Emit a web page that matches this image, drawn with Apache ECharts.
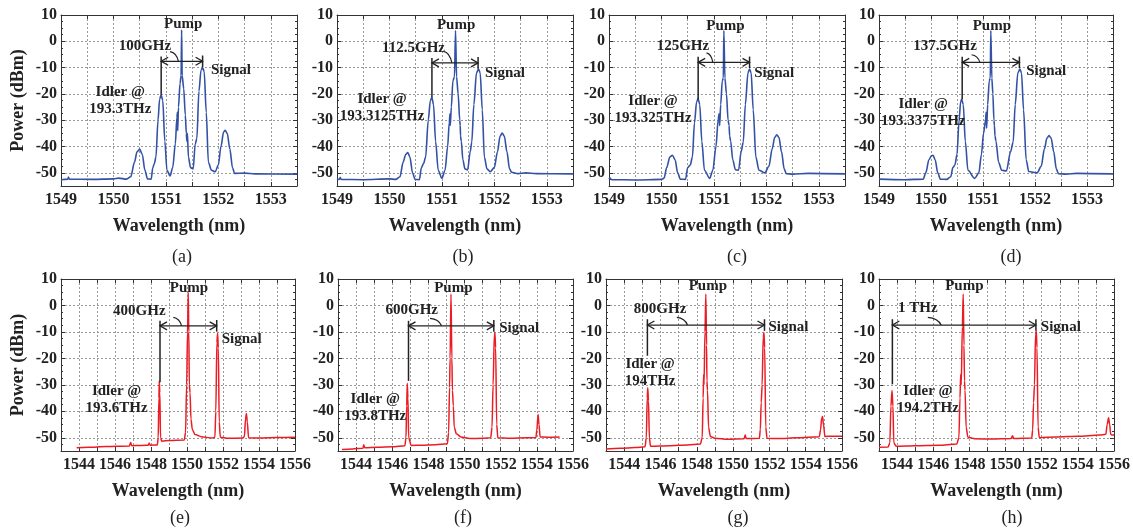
<!DOCTYPE html>
<html>
<head>
<meta charset="utf-8">
<script src="https://cdn.jsdelivr.net/npm/echarts@6/dist/echarts.min.js"></script>
<style>
html, body { margin: 0; padding: 0; background: #fff; }
#chart { width: 1133px; height: 532px; }
</style>
</head>
<body>
<div id="chart"></div>
<script>
// ---- spectra: [wavelength nm, power dBm] ----
var specA = [[1549.00,-52.6],[1549.13,-52.4],[1549.14,-51.6],[1549.16,-52.4],[1549.6,-52.5],[1550.0,-52.3],[1550.1,-52.0],[1550.25,-52.4],[1550.33,-51.5],[1550.40,-46],[1550.45,-42],[1550.50,-41],[1550.55,-43],[1550.60,-49],[1550.65,-52.3],[1550.72,-52.4],[1550.75,-48],[1550.78,-46.5],[1550.81,-44],[1550.85,-30],[1550.88,-22],[1550.91,-20.3],[1550.94,-22.5],[1550.98,-38],[1551.02,-49],[1551.08,-51.2],[1551.13,-48],[1551.18,-39],[1551.21,-29],[1551.22,-27],[1551.225,-34],[1551.24,-25],[1551.27,-16],[1551.29,-13],[1551.30,4.3],[1551.31,-13],[1551.34,-18],[1551.37,-28],[1551.39,-35],[1551.40,-38],[1551.41,-35],[1551.43,-44],[1551.47,-48],[1551.52,-48.5],[1551.56,-39],[1551.59,-37],[1551.63,-19],[1551.67,-11],[1551.70,-10],[1551.73,-11.5],[1551.77,-27],[1551.81,-46],[1551.87,-49],[1551.94,-49.6],[1552.0,-47],[1552.05,-40],[1552.10,-34.5],[1552.13,-33.8],[1552.17,-35],[1552.22,-41],[1552.27,-48],[1552.31,-50.2],[1552.5,-50.1],[1552.7,-50.4],[1553.5,-50.5]];
var specB = [[1549.0,-52.6],[1549.05,-52.4],[1549.06,-51.8],[1549.08,-52.5],[1549.5,-52.6],[1550.0,-52.3],[1550.12,-52.5],[1550.2,-51.5],[1550.26,-46],[1550.31,-43],[1550.35,-42.3],[1550.39,-44],[1550.44,-50],[1550.49,-52.5],[1550.57,-52.6],[1550.61,-48],[1550.65,-46.5],[1550.69,-44],[1550.74,-30],[1550.78,-22.5],[1550.81,-21.4],[1550.84,-24],[1550.88,-38],[1550.93,-49],[1551.0,-52.1],[1551.06,-49],[1551.11,-40],[1551.14,-31],[1551.155,-27.6],[1551.16,-32],[1551.18,-25],[1551.21,-15],[1551.24,-13.5],[1551.26,4.1],[1551.28,-13.5],[1551.31,-20],[1551.34,-30],[1551.35,-32],[1551.355,-36],[1551.37,-38],[1551.40,-45],[1551.44,-48.5],[1551.49,-48.9],[1551.54,-42],[1551.57,-38.3],[1551.61,-24],[1551.66,-12],[1551.70,-10.5],[1551.73,-12],[1551.77,-26],[1551.81,-44],[1551.86,-48.5],[1551.92,-49.6],[1552.0,-48],[1552.06,-42],[1552.11,-36],[1552.15,-34.9],[1552.19,-36],[1552.24,-42],[1552.29,-48.5],[1552.33,-49.8],[1552.45,-50.3],[1552.6,-50.0],[1552.8,-50.3],[1553.5,-50.4]];
var specC = [[1549.0,-52.4],[1549.02,-52.0],[1549.05,-52.6],[1549.5,-52.7],[1550.0,-52.5],[1550.05,-52.0],[1550.1,-48],[1550.16,-44],[1550.21,-43.3],[1550.26,-45],[1550.31,-50],[1550.36,-52.4],[1550.46,-52.5],[1550.5,-48],[1550.55,-47],[1550.59,-44],[1550.63,-31],[1550.67,-23],[1550.70,-21.8],[1550.73,-24],[1550.77,-38],[1550.82,-49],[1550.92,-52.1],[1550.98,-49],[1551.04,-40],[1551.08,-30],[1551.10,-27.6],[1551.11,-32],[1551.13,-24],[1551.16,-15],[1551.18,-14],[1551.19,4.1],[1551.21,-14],[1551.24,-20],[1551.27,-30],[1551.29,-32],[1551.30,-36],[1551.32,-38],[1551.36,-45],[1551.41,-48.8],[1551.47,-49],[1551.52,-42],[1551.56,-38.3],[1551.60,-24],[1551.65,-12],[1551.68,-10.5],[1551.71,-12],[1551.75,-26],[1551.80,-44],[1551.86,-49],[1551.97,-50],[1552.05,-47.5],[1552.11,-41],[1552.16,-36.5],[1552.20,-35.5],[1552.24,-36.5],[1552.29,-42],[1552.34,-48.5],[1552.38,-50.3],[1552.5,-50.5],[1552.8,-50.2],[1553.5,-50.4]];
var specD = [[1549.0,-52.4],[1549.5,-52.6],[1549.85,-52.4],[1549.9,-50],[1549.96,-45],[1550.01,-43.5],[1550.04,-43.3],[1550.08,-45],[1550.13,-50],[1550.18,-52.4],[1550.3,-52.5],[1550.38,-51.5],[1550.42,-48],[1550.46,-47],[1550.5,-43],[1550.54,-30],[1550.57,-23],[1550.59,-22],[1550.62,-24],[1550.66,-38],[1550.71,-49],[1550.84,-52.1],[1550.92,-50],[1550.97,-43],[1551.01,-35],[1551.05,-30],[1551.06,-27],[1551.07,-33],[1551.09,-24],[1551.12,-15],[1551.14,-14],[1551.15,4.1],[1551.17,-14],[1551.19,-20],[1551.21,-30],[1551.22,-32],[1551.23,-36],[1551.25,-38],[1551.30,-46],[1551.36,-49],[1551.45,-49.3],[1551.53,-42],[1551.58,-38.3],[1551.62,-24],[1551.67,-12],[1551.71,-10.5],[1551.74,-12],[1551.78,-26],[1551.83,-45],[1551.88,-49.5],[1552.04,-50],[1552.12,-47.5],[1552.18,-41],[1552.23,-36.8],[1552.27,-35.8],[1552.31,-36.8],[1552.36,-42],[1552.41,-48.5],[1552.45,-50.3],[1552.6,-50.5],[1552.8,-50.2],[1553.5,-50.4]];
var specE = [[1543.87,-53.8],[1544.5,-53.6],[1545.5,-53.3],[1546.8,-53.1],[1546.87,-51.8],[1546.93,-53.0],[1547.5,-52.9],[1547.85,-52.8],[1547.9,-52.0],[1547.95,-52.8],[1548.35,-52.7],[1548.40,-50],[1548.44,-35],[1548.46,-28.5],[1548.49,-33],[1548.53,-50],[1548.6,-51.3],[1549.0,-51.0],[1549.85,-50.8],[1549.92,-48],[1549.98,-30],[1550.03,-10],[1550.07,4.9],[1550.10,-10],[1550.13,-30],[1550.17,-33],[1550.22,-43],[1550.3,-47],[1550.45,-48.8],[1550.8,-49.6],[1551.4,-50.1],[1551.55,-49.8],[1551.6,-40],[1551.66,-14],[1551.70,-10.5],[1551.74,-16],[1551.79,-44],[1551.85,-49.8],[1552.3,-50.2],[1553.1,-50.1],[1553.19,-49.5],[1553.25,-43],[1553.30,-40.8],[1553.35,-44],[1553.42,-50],[1554.0,-50.1],[1555.0,-49.9],[1556.0,-49.8]];
var specF = [[1543.22,-54.4],[1543.8,-54.2],[1544.38,-54.0],[1544.42,-52.6],[1544.48,-53.8],[1545.2,-53.6],[1546.0,-53.4],[1546.7,-53.0],[1546.76,-50],[1546.80,-38],[1546.83,-29.4],[1546.87,-35],[1546.91,-50],[1547.05,-52.9],[1547.6,-52.8],[1548.4,-52.6],[1549.05,-52.3],[1549.12,-48],[1549.17,-31],[1549.20,-20],[1549.25,4.3],[1549.30,-20],[1549.33,-32],[1549.38,-38],[1549.43,-46],[1549.55,-48.5],[1549.8,-49.7],[1550.3,-50.3],[1551.0,-50.2],[1551.45,-50.0],[1551.52,-46],[1551.58,-30],[1551.65,-11],[1551.68,-10.2],[1551.72,-16],[1551.78,-45],[1551.84,-50],[1552.5,-50.2],[1553.4,-50.0],[1553.95,-49.9],[1554.0,-47],[1554.07,-41.2],[1554.12,-45],[1554.18,-49.7],[1554.6,-49.8],[1555.26,-49.7]];
var specG = [[1543.0,-54.2],[1543.8,-54.0],[1544.6,-53.7],[1545.15,-53.4],[1545.22,-50],[1545.27,-35],[1545.30,-31.1],[1545.34,-36],[1545.39,-50],[1545.45,-53.2],[1546.5,-53.0],[1547.5,-52.7],[1548.2,-52.4],[1548.3,-50],[1548.35,-35],[1548.38,-26],[1548.40,-30],[1548.45,-10],[1548.50,4.3],[1548.54,-15],[1548.56,-28.5],[1548.59,-32],[1548.65,-46],[1548.75,-49.5],[1549.0,-50.2],[1549.7,-50.6],[1550.6,-50.4],[1550.67,-49.0],[1550.72,-50.3],[1551.45,-50.2],[1551.50,-47],[1551.55,-36.7],[1551.60,-30],[1551.66,-12],[1551.70,-10.2],[1551.74,-16],[1551.80,-46],[1551.87,-50.2],[1552.5,-50.3],[1553.5,-50.0],[1554.75,-49.6],[1554.82,-47],[1554.88,-42.5],[1554.93,-42],[1554.98,-45],[1555.06,-49.5],[1555.5,-49.4],[1556.0,-49.4]];
var specH = [[1543.0,-53.6],[1543.5,-53.5],[1543.6,-52],[1543.66,-38],[1543.72,-32.1],[1543.77,-38],[1543.82,-52],[1543.95,-53.2],[1545.0,-53.0],[1546.3,-52.8],[1547.3,-52.4],[1547.42,-50],[1547.48,-35],[1547.52,-26],[1547.55,-30],[1547.61,-8],[1547.66,4.3],[1547.70,-15],[1547.73,-28.5],[1547.76,-32],[1547.82,-46],[1547.92,-49.8],[1548.3,-50.4],[1549.2,-50.5],[1550.3,-50.3],[1550.39,-49.2],[1550.45,-50.3],[1551.45,-50.1],[1551.50,-47],[1551.55,-36.7],[1551.60,-30],[1551.66,-11],[1551.70,-9.6],[1551.74,-16],[1551.80,-46],[1551.87,-50],[1552.8,-49.7],[1554.0,-49.4],[1555.2,-49.0],[1555.55,-48.7],[1555.62,-45],[1555.70,-42.4],[1555.76,-45],[1555.82,-48.7],[1555.9,-49.0],[1556.0,-49.0]];
var spectra = [specA, specB, specC, specD, specE, specF, specG, specH];

// ---- text ----
var panelTags = ['(a)', '(b)', '(c)', '(d)', '(e)', '(f)', '(g)', '(h)'];
var gapLabels = ['100GHz', '112.5GHz', '125GHz', '137.5GHz', '400GHz', '600GHz', '800GHz', '1 THz'];
var idlerLabels = ['193.3THz', '193.3125THz', '193.325THz', '193.3375THz', '193.6THz', '193.8THz', '194THz', '194.2THz'];

// ---- annotation anchors (data coords) ----
var pumpAt   = [[1551.33,6.6],[1551.27,6.2],[1551.22,5.8],[1551.17,5.8],[1550.11,6.6],[1549.38,6.5],[1548.61,7.2],[1547.72,7.2]];
var gapAt    = [[1550.60,-2],[1550.46,-2.5],[1550.41,-2],[1550.27,-2],[1547.35,-2],[1547.08,-1.7],[1545.98,-1.4],[1545.15,-1.1]];
var signalAt = [[1551.86,-11.1],[1551.82,-12],[1551.77,-12.1],[1551.83,-11.5],[1551.93,-12.7],[1551.92,-8.7],[1551.95,-8.3],[1551.95,-8.3]];
var idlerAt  = [[1550.13,-22.7],[1549.86,-25.1],[1549.84,-25.9],[1549.85,-27.1],[1546.09,-35.6],[1545.06,-38.5],[1545.43,-25.5],[1545.70,-35.5]];
// [idler x, signal x, arrow level]
var spanAt   = [[1550.91,1551.70,-7.6],[1550.81,1551.69,-8.2],[1550.70,1551.68,-8.0],[1550.60,1551.70,-8.0],[1548.50,1551.65,-7.7],[1546.90,1551.62,-7.7],[1545.28,1551.73,-7.4],[1543.74,1551.68,-7.4]];
// idler stem [top, bottom]
var stemAt   = [[-5.8,-20.3],[-6.3,-21.4],[-5.9,-22],[-5.9,-22],[-5.8,-29],[-5.8,-28.5],[-5.2,-19],[-5.2,-29.8]];
// leader from gap label to arrow [x0,y0,x1,y1]
var leaderAt = [[1551.08,-3.9,1551.24,-7.6],[1551.03,-3.8,1551.19,-8.2],[1550.86,-4.4,1550.98,-8.0],[1550.78,-5.1,1550.94,-8.0],[1549.24,-4.5,1549.70,-7.7],[1548.09,-4.9,1548.73,-7.7],[1546.9,-4.5,1547.49,-7.4],[1545.70,-4.5,1546.44,-7.4]];

var FONT = '"Liberation Serif", "Times New Roman", serif';
var INK = '#222';
var gridBoxes = [
  {left: 61, top: 15, width: 236, height: 171},
  {left: 337, top: 15, width: 236, height: 171},
  {left: 609, top: 15, width: 236, height: 171},
  {left: 879, top: 15, width: 234, height: 171},
  {left: 61, top: 279, width: 234, height: 172},
  {left: 338, top: 279, width: 235, height: 172},
  {left: 606, top: 279, width: 236, height: 172},
  {left: 879, top: 279, width: 236, height: 172}
];
var tagPos = [[182,257],[463,257],[737,257],[1011,257],[180,518],[463,518],[738,518],[1012,518]];

var chart = echarts.init(document.getElementById('chart'));

var grids = [], xAxes = [], yAxes = [], series = [];
gridBoxes.forEach(function (g, i) {
  var topRow = i < 4;
  grids.push({left: g.left, top: g.top, width: g.width, height: g.height, show: false});
  var xRange = topRow ? {min: 1549, max: 1553.5, interval: 0.5} : {min: 1543, max: 1556, interval: 1};
  xAxes.push(Object.assign({
    type: 'value', gridIndex: i, position: 'bottom',
    axisLine: {onZero: false, lineStyle: {color: '#333', width: 1}},
    axisTick: {inside: true, length: 4, lineStyle: {color: '#333'}},
    axisLabel: {
      color: INK, fontFamily: FONT, fontWeight: 'bold', fontSize: 16, margin: 6,
      showMinLabel: true, showMaxLabel: true,
      formatter: function (v) {
        if (topRow) return Number.isInteger(v) ? String(v) : '';
        return (Math.round(v) % 2 === 0) ? String(v) : '';
      }
    },
    splitLine: {show: true, lineStyle: {color: '#9a9a9a', type: [2, 2], width: 1}},
    name: 'Wavelength (nm)', nameLocation: 'middle', nameGap: 31,
    nameTextStyle: {color: INK, fontFamily: FONT, fontWeight: 'bold', fontSize: 18}
  }, xRange));
  yAxes.push({
    type: 'value', gridIndex: i, position: 'left', min: -55, max: 10,
    axisLine: {show: true, onZero: false, lineStyle: {color: '#333', width: 1}},
    axisTick: {show: true, inside: true, length: 4, lineStyle: {color: '#333'}},
    minorTick: {show: true, splitNumber: 4, length: 2, lineStyle: {color: '#333'}},
    axisLabel: {
      color: INK, fontFamily: FONT, fontWeight: 'bold', fontSize: 16, margin: 4,
      formatter: function (v) { return (Math.round(v) % 10 === 0) ? String(v) : ''; }
    },
    splitLine: {show: true, lineStyle: {color: '#9a9a9a', type: [2, 2], width: 1}},
    name: (i % 4 === 0) ? 'Power (dBm)' : '', nameLocation: 'middle', nameGap: 34,
    nameTextStyle: {color: INK, fontFamily: FONT, fontWeight: 'bold', fontSize: 18}
  });
  series.push({
    type: 'line', xAxisIndex: i, yAxisIndex: i, data: spectra[i],
    showSymbol: false, symbol: 'none', smooth: 0.3, smoothMonotone: 'x', clip: true,
    lineStyle: {width: topRow ? 1.6 : 1.5, color: topRow ? '#3352a6' : '#ec1c24'},
    animation: false
  });
});
// frame: top and right axes with inward ticks
gridBoxes.forEach(function (g, i) {
  var topRow = i < 4;
  var xRange = topRow ? {min: 1549, max: 1553.5, interval: 0.5} : {min: 1543, max: 1556, interval: 1};
  xAxes.push(Object.assign({
    type: 'value', gridIndex: i, position: 'top',
    axisLine: {onZero: false, lineStyle: {color: '#333', width: 1}},
    axisTick: {inside: true, length: 4, lineStyle: {color: '#333'}},
    axisLabel: {show: false}, splitLine: {show: false}
  }, xRange));
  yAxes.push({
    type: 'value', gridIndex: i, position: 'right', min: -55, max: 10,
    axisLine: {show: true, onZero: false, lineStyle: {color: '#333', width: 1}},
    axisTick: {show: true, inside: true, length: 4, lineStyle: {color: '#333'}},
    minorTick: {show: true, splitNumber: 4, length: 2, lineStyle: {color: '#333'}},
    axisLabel: {show: false}, splitLine: {show: false}
  });
});

chart.setOption({
  backgroundColor: '#fff',
  animation: false,
  grid: grids,
  xAxis: xAxes,
  yAxis: yAxes,
  series: series
});

// annotations placed through the axes' own scales
function px(i, x, y) { return chart.convertToPixel({gridIndex: i}, [x, y]); }
function seg(a, b, w) {
  return {type: 'line', silent: true, z: 50,
    shape: {x1: a[0], y1: a[1], x2: b[0], y2: b[1]},
    style: {stroke: INK, lineWidth: w || 1.3}};
}
function txt(p, text, align) {
  return {type: 'text', silent: true, z: 60, x: p[0], y: p[1],
    style: {text: text, font: 'bold 15px ' + FONT, fill: INK,
      textAlign: align || 'center', textVerticalAlign: 'middle', lineHeight: 17}};
}
var gfx = [];
for (var i = 0; i < 8; i++) {
  var s = spanAt[i];
  var L = px(i, s[0], s[2]), R = px(i, s[1], s[2]);
  gfx.push(seg(L, R));
  // arrow heads
  gfx.push({type: 'polyline', silent: true, z: 50, shape: {points: [[L[0] + 7, L[1] - 4], L, [L[0] + 7, L[1] + 4]]}, style: {stroke: INK, lineWidth: 1.3, fill: null}});
  gfx.push({type: 'polyline', silent: true, z: 50, shape: {points: [[R[0] - 7, R[1] - 4], R, [R[0] - 7, R[1] + 4]]}, style: {stroke: INK, lineWidth: 1.3, fill: null}});
  // idler stem and signal tick
  gfx.push(seg(px(i, s[0], stemAt[i][0]), px(i, s[0], stemAt[i][1]), 1.5));
  gfx.push(seg(px(i, s[1], s[2] + 2.2), px(i, s[1], s[2] - 2.2), 1.5));
  // leader curve
  var la = leaderAt[i];
  var p0 = px(i, la[0], la[1]), p1 = px(i, la[2], la[3]);
  gfx.push({type: 'bezierCurve', silent: true, z: 50,
    shape: {x1: p0[0], y1: p0[1], x2: p1[0], y2: p1[1], cpx1: p0[0] + 0.75 * (p1[0] - p0[0]), cpy1: p0[1] + 0.1 * (p1[1] - p0[1])},
    style: {stroke: INK, lineWidth: 1.2, fill: null}});
  gfx.push(txt(px(i, pumpAt[i][0], pumpAt[i][1]), 'Pump'));
  gfx.push(txt(px(i, gapAt[i][0], gapAt[i][1]), gapLabels[i]));
  gfx.push(txt(px(i, signalAt[i][0], signalAt[i][1]), 'Signal', 'left'));
  gfx.push(txt(px(i, idlerAt[i][0], idlerAt[i][1]), 'Idler @\n' + idlerLabels[i]));
  gfx.push({type: 'text', silent: true, x: tagPos[i][0], y: tagPos[i][1],
    style: {text: panelTags[i], font: '18px ' + FONT, fill: INK, textAlign: 'center', textVerticalAlign: 'middle'}});
}
chart.setOption({graphic: gfx});
</script>
</body>
</html>
